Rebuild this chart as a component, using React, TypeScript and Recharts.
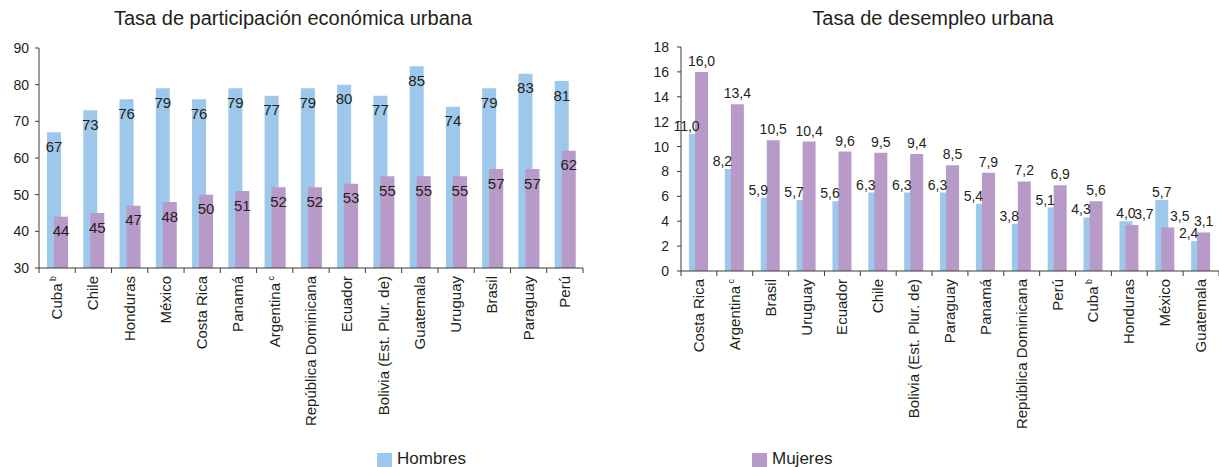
import React from "react";
import { BarChart, Bar, XAxis, YAxis, LabelList } from "recharts";

const FONT = '"Liberation Sans", Arial, sans-serif';
const TEXT = "#231f20";
const AXIS = "#3a3a3a";
const BLUE = "#9dc8eb";
const PURPLE = "#b89ac8";

// Tasa de participación económica urbana
const partCountries = ["Cuba", "Chile", "Honduras", "México", "Costa Rica", "Panamá", "Argentina", "República Dominicana", "Ecuador", "Bolivia (Est. Plur. de)", "Guatemala", "Uruguay", "Brasil", "Paraguay", "Perú"];
const partNotes = ["b", "", "", "", "", "", "c", "", "", "", "", "", "", "", ""];
const partHombres = [67, 73, 76, 79, 76, 79, 77, 79, 80, 77, 85, 74, 79, 83, 81];
const partMujeres = [44, 45, 47, 48, 50, 51, 52, 52, 53, 55, 55, 55, 57, 57, 62];
const partTicks = [30, 40, 50, 60, 70, 80, 90];

// Tasa de desempleo urbana
const desCountries = ["Costa Rica", "Argentina", "Brasil", "Uruguay", "Ecuador", "Chile", "Bolivia (Est. Plur. de)", "Paraguay", "Panamá", "República Dominicana", "Perú", "Cuba", "Honduras", "México", "Guatemala"];
const desNotes = ["", "c", "", "", "", "", "", "", "", "", "", "b", "", "", ""];
const desHombres = [11.0, 8.2, 5.9, 5.7, 5.6, 6.3, 6.3, 6.3, 5.4, 3.8, 5.1, 4.3, 4.0, 5.7, 2.4];
const desMujeres = [16.0, 13.4, 10.5, 10.4, 9.6, 9.5, 9.4, 8.5, 7.9, 7.2, 6.9, 5.6, 3.7, 3.5, 3.1];
const desTicks = [0, 2, 4, 6, 8, 10, 12, 14, 16, 18];

const partData = partCountries.map((name, i) => ({ name, hombres: partHombres[i], mujeres: partMujeres[i] }));
const desData = desCountries.map((name, i) => ({ name, hombres: desHombres[i], mujeres: desMujeres[i] }));

const fmt = (v: number) => v.toFixed(1).replace(".", ",");

const CategoryTick = (props: any) => {
  const { x, y, payload, index, visibleTicksCount, notes, band } = props;
  const half = payload && payload.offset ? payload.offset : band / 2;
  const note = notes[index];
  return (
    <g>
      <line x1={x - half} y1={y} x2={x - half} y2={y + 5} stroke={AXIS} />
      {index === visibleTicksCount - 1 && <line x1={x + half} y1={y} x2={x + half} y2={y + 5} stroke={AXIS} />}
      <text
        transform={`translate(${x + 5}, ${y + 8}) rotate(-90)`}
        textAnchor="end"
        fontSize={15}
        fill={TEXT}
        fontFamily={FONT}
      >
        {payload.value}
        {note ? <tspan fontSize={9} dy={-6}>{" " + note}</tspan> : null}
      </text>
    </g>
  );
};

// labels of the unemployment chart sit above the bars, pushed aside when the other bar is taller
const desLabel = (own: number[], other: number[], side: number, lift: number) => (p: any) => {
  const { x, y, width, index } = p;
  let shift = 0;
  if (side < 0 && own[index] < other[index]) shift = -9;
  if (side > 0 && own[index] < other[index]) shift = 12;
  return (
    <text x={x + width / 2 + shift} y={y - lift} textAnchor="middle" fontSize={14} fill={TEXT} fontFamily={FONT}>
      {fmt(own[index])}
    </text>
  );
};

const tickStyle = { fontSize: 14, fill: TEXT, fontFamily: FONT };

export default function App() {
  return (
    <div style={{ position: "absolute", left: 0, top: 0, width: 1219, height: 467, background: "#fff", overflow: "hidden", fontFamily: FONT, color: TEXT }}>
      <div style={{ position: "absolute", left: 93, width: 400, top: 7, textAlign: "center", fontSize: 20 }}>
        Tasa de participación económica urbana
      </div>
      <div style={{ position: "absolute", left: 733, width: 400, top: 7, textAlign: "center", fontSize: 20 }}>
        Tasa de desempleo urbana
      </div>

      <div style={{ position: "absolute", left: 0, top: 0 }}>
        <BarChart width={600} height={440} data={partData} margin={{ top: 48, right: 17, bottom: 0, left: 0 }} barSize={14} barGap={-7}>
          <XAxis
            dataKey="name"
            interval={0}
            height={172}
            tickLine={false}
            tickSize={0}
            tickMargin={0}
            axisLine={{ stroke: AXIS }}
            tick={(p: any) => <CategoryTick {...p} notes={partNotes} band={544 / 15} />}
          />
          <YAxis
            width={39}
            domain={[30, 90]}
            ticks={partTicks}
            interval={0}
            tickSize={4}
            tickMargin={6}
            axisLine={{ stroke: AXIS }}
            tickLine={{ stroke: AXIS }}
            tick={tickStyle}
          />
          <Bar dataKey="hombres" fill={BLUE} isAnimationActive={false}>
            <LabelList dataKey="hombres" position="insideTop" offset={9} fontSize={15} fill={TEXT} fontFamily={FONT} />
          </Bar>
          <Bar dataKey="mujeres" fill={PURPLE} isAnimationActive={false}>
            <LabelList dataKey="mujeres" position="insideTop" offset={9} fontSize={15} fill={TEXT} fontFamily={FONT} />
          </Bar>
        </BarChart>
      </div>

      <div style={{ position: "absolute", left: 640, top: 0 }}>
        <BarChart width={579} height={440} data={desData} margin={{ top: 47, right: 0, bottom: 0, left: 0 }} barSize={13} barGap={-7} style={{ overflow: "visible" }}>
          <XAxis
            dataKey="name"
            interval={0}
            height={169}
            tickLine={false}
            tickSize={0}
            tickMargin={0}
            axisLine={{ stroke: AXIS }}
            tick={(p: any) => <CategoryTick {...p} notes={desNotes} band={538 / 15} />}
          />
          <YAxis
            width={41}
            domain={[0, 18]}
            ticks={desTicks}
            interval={0}
            tickSize={4}
            tickMargin={8}
            axisLine={{ stroke: AXIS }}
            tickLine={{ stroke: AXIS }}
            tick={tickStyle}
          />
          <Bar dataKey="hombres" fill={BLUE} isAnimationActive={false}>
            <LabelList dataKey="hombres" content={desLabel(desHombres, desMujeres, -1, 3)} />
          </Bar>
          <Bar dataKey="mujeres" fill={PURPLE} isAnimationActive={false}>
            <LabelList dataKey="mujeres" content={desLabel(desMujeres, desHombres, 1, 6)} />
          </Bar>
        </BarChart>
      </div>

      <div style={{ position: "absolute", left: 377, top: 453, width: 15, height: 15, background: BLUE }} />
      <div style={{ position: "absolute", left: 397, top: 449, fontSize: 17, lineHeight: "19px" }}>Hombres</div>
      <div style={{ position: "absolute", left: 752, top: 453, width: 15, height: 15, background: PURPLE }} />
      <div style={{ position: "absolute", left: 772, top: 449, fontSize: 17, lineHeight: "19px" }}>Mujeres</div>
    </div>
  );
}
